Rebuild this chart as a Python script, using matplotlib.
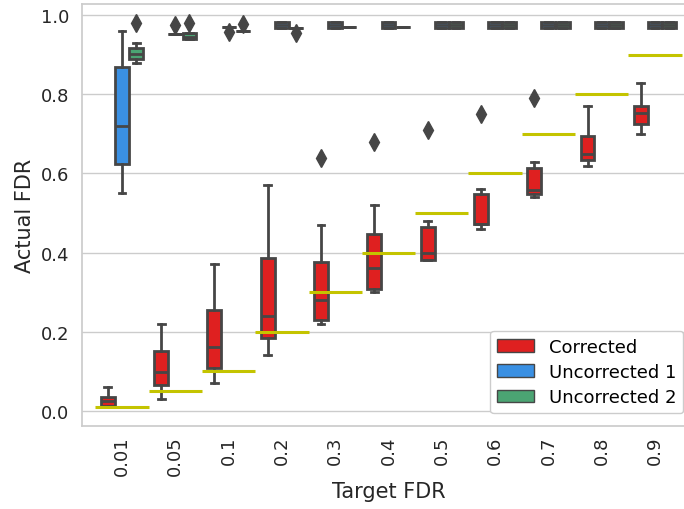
import matplotlib as mpl
mpl.use('Agg')
import matplotlib.pyplot as plt
from matplotlib.patches import Patch

# categories / target values
targets = ["0.01", "0.05", "0.1", "0.2", "0.3", "0.4", "0.5", "0.6", "0.7", "0.8", "0.9"]
target_vals = [0.01, 0.05, 0.1, 0.2, 0.3, 0.4, 0.5, 0.6, 0.7, 0.8, 0.9]

# Corrected
corr_lo = [0.010, 0.030, 0.070, 0.140, 0.220, 0.300, 0.380, 0.460, 0.540, 0.620, 0.700]
corr_q1 = [0.011, 0.064, 0.108, 0.184, 0.229, 0.309, 0.380, 0.471, 0.549, 0.634, 0.724]
corr_med = [0.024, 0.099, 0.160, 0.240, 0.281, 0.360, 0.400, 0.471, 0.558, 0.650, 0.752]
corr_q3 = [0.036, 0.150, 0.255, 0.386, 0.376, 0.446, 0.465, 0.547, 0.614, 0.696, 0.770]
corr_hi = [0.060, 0.220, 0.370, 0.570, 0.470, 0.520, 0.480, 0.560, 0.630, 0.770, 0.830]
corr_fl = [[], [], [], [], [0.64], [0.68], [0.71], [0.75], [0.79], [], []]

# Uncorrected 1
unc1_lo = [0.550, 0.953, 0.971, 0.969, 0.969, 0.969, 0.969, 0.969, 0.969, 0.969, 0.969]
unc1_q1 = [0.625, 0.953, 0.971, 0.969, 0.969, 0.969, 0.969, 0.969, 0.969, 0.969, 0.969]
unc1_med = [0.720, 0.953, 0.971, 0.976, 0.976, 0.976, 0.976, 0.976, 0.976, 0.976, 0.976]
unc1_q3 = [0.870, 0.953, 0.971, 0.982, 0.982, 0.982, 0.982, 0.982, 0.982, 0.982, 0.982]
unc1_hi = [0.960, 0.953, 0.971, 0.982, 0.982, 0.982, 0.982, 0.982, 0.982, 0.982, 0.982]
unc1_fl = [[], [0.976], [0.958], [], [], [], [], [], [], [], []]

# Uncorrected 2
unc2_lo = [0.880, 0.939, 0.960, 0.969, 0.970, 0.970, 0.969, 0.969, 0.969, 0.969, 0.969]
unc2_q1 = [0.889, 0.939, 0.960, 0.969, 0.970, 0.970, 0.969, 0.969, 0.969, 0.969, 0.969]
unc2_med = [0.901, 0.944, 0.960, 0.969, 0.970, 0.970, 0.976, 0.976, 0.976, 0.976, 0.976]
unc2_q3 = [0.918, 0.954, 0.960, 0.969, 0.970, 0.970, 0.982, 0.982, 0.982, 0.982, 0.982]
unc2_hi = [0.930, 0.954, 0.960, 0.969, 0.970, 0.970, 0.982, 0.982, 0.982, 0.982, 0.982]
unc2_fl = [[0.98], [0.981], [0.977], [0.955], [], [], [], [], [], [], []]

labels = ["Corrected", "Uncorrected 1", "Uncorrected 2"]
colors = ["#df2020", "#3a90e3", "#4ba473"]
gray = "#464646"


def make_stats(lo, q1, med, q3, hi, fl):
    return [dict(whislo=a, q1=b, med=c, q3=d, whishi=e, fliers=f)
            for a, b, c, d, e, f in zip(lo, q1, med, q3, hi, fl)]


groups = [
    make_stats(corr_lo, corr_q1, corr_med, corr_q3, corr_hi, corr_fl),
    make_stats(unc1_lo, unc1_q1, unc1_med, unc1_q3, unc1_hi, unc1_fl),
    make_stats(unc2_lo, unc2_q1, unc2_med, unc2_q3, unc2_hi, unc2_fl),
]

fig = plt.figure(figsize=(6.84, 5.10), dpi=100)
ax = fig.add_axes([82 / 684, 83 / 510, 613 / 684, 422 / 510])

ax.grid(axis='y', color='.8', linewidth=1)
ax.set_axisbelow(True)
for s in ax.spines.values():
    s.set_color('.8')
    s.set_linewidth(1.25)
ax.spines['right'].set_visible(False)

n = len(targets)
offsets = [-0.8 / 3, 0, 0.8 / 3]
for stats, off, col in zip(groups, offsets, colors):
    ax.bxp(stats, positions=[i + off for i in range(n)], widths=0.26,
           patch_artist=True, manage_ticks=False,
           boxprops=dict(facecolor=col, edgecolor=gray, linewidth=2),
           medianprops=dict(color=gray, linewidth=2),
           whiskerprops=dict(color=gray, linewidth=2),
           capprops=dict(color=gray, linewidth=2),
           flierprops=dict(marker='d', markerfacecolor=gray, markeredgecolor=gray,
                           markersize=9))

for i, t in enumerate(target_vals):
    ax.hlines(t, i - 0.5, i + 0.5, color='#c4c400', linewidth=2.2, zorder=5)

ax.set_xlim(-0.75, n - 0.25)
ax.set_ylim(-0.0385, 1.0285)
ax.set_xticks(range(n))
ax.set_xticklabels(targets, rotation=90)
ax.set_yticks([0.0, 0.2, 0.4, 0.6, 0.8, 1.0])
ax.tick_params(axis='both', length=0, labelsize=13, labelcolor='#262626')
ax.tick_params(axis='y', pad=9)
ax.tick_params(axis='x', pad=7)
ax.set_xlabel("Target FDR", fontsize=15, color='#262626')
ax.set_ylabel("Actual FDR", fontsize=15, color='#262626')

handles = [Patch(facecolor=c, edgecolor=gray, linewidth=1) for c in colors]
fig.legend(handles, labels, loc='upper left', bbox_to_anchor=(490 / 684, 1 - 331.5 / 510),
           bbox_transform=fig.transFigure, borderaxespad=0, fontsize=13,
           handlelength=2.05, handletextpad=0.8, labelspacing=0.4,
           edgecolor='.8', framealpha=1)

fig.savefig('out.png', dpi=100)
